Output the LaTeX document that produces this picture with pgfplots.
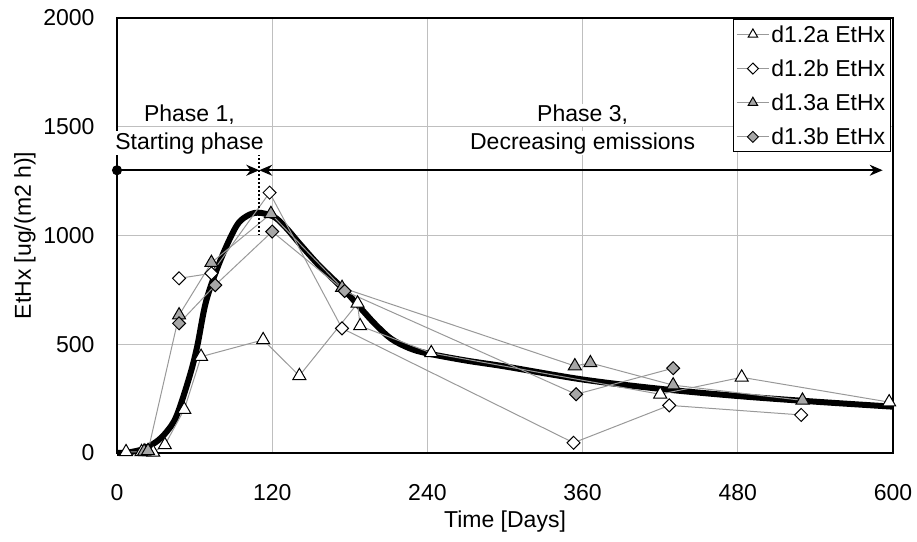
\documentclass[border=0pt]{standalone}
\usepackage{fontspec}
\setmainfont{Liberation Sans}
\usepackage{pgfplots}
\pgfplotsset{compat=1.18}
\usetikzlibrary{arrows.meta}

\begin{document}
\begin{tikzpicture}[font=\fontsize{23bp}{27bp}\selectfont]
\begin{axis}[
    scale only axis, width=776bp, height=435bp,
    xmin=0, xmax=600, ymin=0, ymax=2000,
    xtick={0,120,...,600}, ytick={0,500,...,2000},
    grid=major, major grid style={draw=black!25, line width=1bp},
    axis line style={line width=2bp},
    tick style={draw=none},
    /pgf/number format/assume math mode=true,
    /pgf/number format/set thousands separator={},
    xticklabel style={yshift=-28bp},
    yticklabel style={xshift=-19bp},
    xlabel={Time [Days]},
    ylabel={EtHx [ug/(m2 h)]},
    xlabel style={at={(axis description cs:0.5,-0.158)}, anchor=center},
    ylabel style={at={(axis description cs:-0.1186,0.5)}, anchor=center},
    clip=false,
    legend style={at={(0.997,0.998)}, anchor=north east, draw=black,
                  line width=1bp, fill=white, inner xsep=3bp, inner ysep=4bp,
                  row sep=12bp},
    legend cell align=left,
    legend image code/.code={
      \draw[mark repeat=2, mark phase=2, mark size=5.5bp]
        plot coordinates {(0bp,0bp) (16bp,0bp) (32bp,0bp)};},
    every axis plot/.append style={draw=black!40, line width=1bp},
  ]
  % fitted emission curve
  \addplot[black, line width=6bp, smooth, tension=0.55, forget plot] coordinates {
    (0,0) (10,4) (20,18) (30,50) (38,95) (46,170) (56,350) (62,490)
    (69,700) (80,887) (92,1040) (100,1088) (109,1105) (121,1087)
    (130,1040) (141,964) (155,870) (167,800) (178,735) (190,655)
    (200,590) (212,525) (226,482) (240,458) (270,425)
    (300,398) (360,338) (420,295) (480,262) (540,236) (600,213)};
  % d1.2a
  \addplot[mark=triangle*, mark size=7.5bp,
           mark options={draw=black, fill=white, solid}] coordinates {
    (7,5) (19,5) (22,5) (25,5) (28,3) (37,37) (52,200) (65,443)
    (113,520) (141,355) (186,688) (188,584) (243,460) (420,270)
    (483,348) (597,234)};
  \addlegendentry{d1.2a EtHx}
  % d1.2b
  \addplot[mark=diamond*, mark size=6.5bp,
           mark options={draw=black, fill=white, solid, xscale=1.33}] coordinates {
    (48,803) (73,826) (118,1197) (174,573) (353,47) (427,219) (529,175)};
  \addlegendentry{d1.2b EtHx}
  % d1.3a
  \addplot[mark=triangle*, mark size=7.5bp,
           mark options={draw=black, fill=black!35, solid}] coordinates {
    (21,8) (24,10) (48,634) (73,875) (119,1100) (174,760) (354,400)
    (366,414) (430,312) (530,242)};
  \addlegendentry{d1.3a EtHx}
  % d1.3b
  \addplot[mark=diamond*, mark size=6.5bp,
           mark options={draw=black, fill=black!35, solid, xscale=1.33}] coordinates {
    (48,596) (76,772) (120,1018) (176,745) (355,270) (430,390)};
  \addlegendentry{d1.3b EtHx}
  % phase annotations
  \addplot[only marks, mark=*, mark size=4.5bp, black, forget plot]
    coordinates {(0,1300)};
  \draw[black, line width=1.5bp, -{Stealth[length=13bp,width=11bp]}]
    (axis cs:0,1300) -- (axis cs:110,1300);
  \draw[black, line width=1.5bp,
        {Stealth[length=13bp,width=11bp]}-{Stealth[length=13bp,width=11bp]}]
    (axis cs:110,1300) -- (axis cs:592,1300);
  \draw[black, line width=2bp, dotted] (axis cs:110,1375) -- (axis cs:110,1005);
  \node[fill=white, inner sep=1bp] at (axis cs:56,1554) {Phase 1,};
  \node[fill=white, inner sep=1bp] at (axis cs:56,1425) {Starting phase};
  \node[fill=white, inner sep=1bp] at (axis cs:360,1554) {Phase 3,};
  \node[fill=white, inner sep=1bp] at (axis cs:360,1425) {Decreasing emissions};
\end{axis}
\pgfresetboundingbox
\path ([shift={(-117bp,-88bp)}]current axis.south west)
  rectangle ([shift={(24bp,18bp)}]current axis.north east);
\end{tikzpicture}
\end{document}
